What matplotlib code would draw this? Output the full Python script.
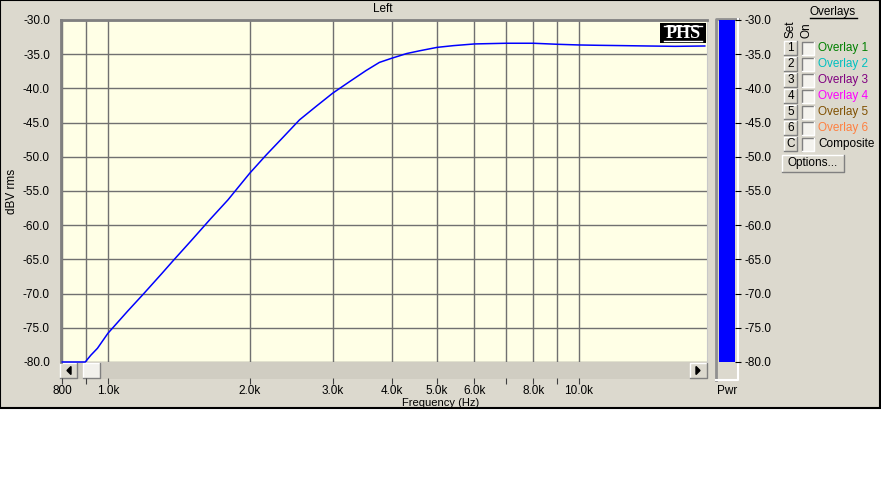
import numpy as np
import matplotlib
matplotlib.use("Agg")
import matplotlib.pyplot as plt
from matplotlib.patches import Rectangle, Polygon
from matplotlib.ticker import FixedLocator, NullLocator

plt.rcParams['font.family'] = ['Liberation Sans', 'DejaVu Sans']
plt.rcParams['axes.unicode_minus'] = False

# --- data ---
freq_hz = [800, 850, 895, 900, 920, 950, 1000, 1100, 1188, 1300, 1375, 1505,
           1650, 1798, 2000, 2170, 2350, 2551, 2770, 3000, 3260, 3530, 3770,
           4000, 4310, 4590, 5000, 5410, 6000, 7000, 8000, 9000, 10000,
           11000, 12500, 14000, 16000, 18500]
level_dbv = [-80.0, -80.0, -80.0, -79.8, -79.0, -78.0, -75.8, -72.6, -70.1,
             -67.1, -65.2, -62.2, -59.1, -56.3, -52.4, -49.7, -47.2, -44.6,
             -42.6, -40.7, -39.0, -37.4, -36.2, -35.6, -34.9, -34.5, -34.0,
             -33.75, -33.5, -33.4, -33.4, -33.55, -33.65, -33.7, -33.75,
             -33.8, -33.85, -33.8]
pwr_level = -30.0

x_ticks = [800, 900, 1000, 2000, 3000, 4000, 5000, 6000, 7000, 8000, 9000, 10000]
x_tick_labels = ["800", "", "1.0k", "2.0k", "3.0k", "4.0k", "5.0k", "6.0k",
                 "", "8.0k", "", "10.0k"]
y_ticks = [-30, -35, -40, -45, -50, -55, -60, -65, -70, -75, -80]

overlay_names = ["Overlay 1", "Overlay 2", "Overlay 3", "Overlay 4",
                 "Overlay 5", "Overlay 6", "Composite"]
overlay_keys = ["1", "2", "3", "4", "5", "6", "C"]
overlay_colors = ["#008000", "#00c0c0", "#800080", "#ff00ff",
                  "#805000", "#ff8040", "#000000"]

W, H = 881, 480
PANEL = "#dcd9ce"
PLOT_BG = "#ffffe6"
GRID = "#707070"
FS = 8.5

fig = plt.figure(figsize=(W / 100, H / 100), dpi=100, facecolor="white")


def frac(x0, y0, x1, y1):
    # pixel box (top-left origin) -> figure fraction [l, b, w, h]
    return [x0 / W, 1 - y1 / H, (x1 - x0) / W, (y1 - y0) / H]


def pixel_axes(z):
    a = fig.add_axes([0, 0, 1, 1], zorder=z)
    a.set_xlim(0, W)
    a.set_ylim(H, 0)
    a.axis("off")
    a.patch.set_alpha(0)
    return a


def bevel(a, x0, y0, x1, y1, face=PANEL, raised=True):
    a.add_patch(Rectangle((x0, y0), x1 - x0, y1 - y0, facecolor=face, edgecolor="none"))
    hi, lo = ("white", "#808080") if raised else ("#808080", "white")
    a.plot([x0, x0, x1], [y1, y0, y0], color=hi, lw=1)
    a.plot([x0, x1, x1], [y1, y1, y0], color=lo, lw=1)


bg = pixel_axes(0)
bg.add_patch(Rectangle((0, 0), 880, 408, facecolor=PANEL, edgecolor="black", lw=1.5))

# scrollbar under the plot
bg.add_patch(Rectangle((60, 362), 647, 17, facecolor="#d0cdc2", edgecolor="none"))
bevel(bg, 60, 363, 77, 378)
bevel(bg, 83, 363, 100, 378, face="#f2f1ec")
bevel(bg, 690, 363, 707, 378)
bg.add_patch(Polygon([[67, 370.5], [71, 366.5], [71, 374.5]], color="black"))
bg.add_patch(Polygon([[700, 370.5], [696, 366.5], [696, 374.5]], color="black"))

# Pwr meter frame
bg.add_patch(Rectangle((715, 18), 23, 362, facecolor=PANEL, edgecolor="none"))
bg.plot([716, 716, 738], [380, 18.5, 18.5], color="#909090", lw=2)
bg.plot([716, 737.5, 737.5], [379.5, 379.5, 18.5], color="white", lw=1.5)

# texts around the plot
bg.text(383, 9, "Left", ha="center", va="center", fontsize=FS)
bg.text(12, 191, "dBV rms", ha="center", va="center", rotation=90, fontsize=FS)
bg.text(441, 403.5, "Frequency (Hz)", ha="center", va="center", fontsize=8)
bg.text(727, 391, "Pwr", ha="center", va="center", fontsize=FS)

# overlays panel
bg.text(833, 12, "Overlays", ha="center", va="center", fontsize=FS)
bg.plot([810, 857], [18, 18], color="black", lw=1)
bg.text(791, 29, "Set", ha="center", va="center", rotation=90, fontsize=FS)
bg.text(807, 30, "On", ha="center", va="center", rotation=90, fontsize=FS)
for i, (key, name, col) in enumerate(zip(overlay_keys, overlay_names, overlay_colors)):
    yc = 48.3 + 16 * i
    bevel(bg, 784, yc - 7, 797, yc + 7)
    bg.text(790.5, yc, key, ha="center", va="center", fontsize=FS)
    bevel(bg, 802, yc - 6, 814, yc + 7, face="#f4f3ee", raised=False)
    bg.text(818, yc, name, ha="left", va="center", fontsize=FS, color=col)
bevel(bg, 782, 155, 844, 172)
bg.text(813, 163, "Options...", ha="center", va="center", fontsize=FS)

# main plot
ax = fig.add_axes(frac(61, 20, 707, 362), zorder=2)
ax.set_facecolor(PLOT_BG)
ax.plot(freq_hz, level_dbv, color="#0000ff", lw=1.1, zorder=3, clip_on=False)
ax.set_xscale("log")
ax.set_xlim(795, 18700)
ax.set_ylim(-80, -30)
ax.xaxis.set_major_locator(FixedLocator(x_ticks))
ax.xaxis.set_minor_locator(NullLocator())
ax.set_xticklabels([])
ax.set_yticks(y_ticks)
ax.set_yticklabels([f"{v:.1f}" for v in y_ticks], fontsize=FS)
ax.tick_params(axis="x", length=0)
ax.tick_params(axis="y", length=0, pad=8)
ax.grid(True, color=GRID, lw=1)
for s in ["left", "top"]:
    ax.spines[s].set_color("#808080")
    ax.spines[s].set_linewidth(2)
ax.spines["right"].set_color("#c8c8c8")
ax.spines["bottom"].set_visible(False)

# frequency ticks below the scrollbar
tx = fig.add_axes(frac(61, 362, 707, 378), zorder=1)
tx.patch.set_alpha(0)
tx.set_xscale("log")
tx.set_xlim(ax.get_xlim())
tx.xaxis.set_major_locator(FixedLocator(x_ticks))
tx.xaxis.set_minor_locator(NullLocator())
tx.set_xticklabels(x_tick_labels, fontsize=FS)
tx.tick_params(axis="x", length=4, pad=1, color="#404040")
tx.set_yticks([])
for s in tx.spines.values():
    s.set_visible(False)

# Pwr bar
pw = fig.add_axes(frac(719, 20, 735, 362), zorder=2)
pw.set_facecolor(PANEL)
pw.bar([0], [pwr_level - (-80)], bottom=-80, width=1.0, color="#0000ff")
pw.set_xlim(-0.5, 0.5)
pw.set_ylim(-80, -30)
pw.set_xticks([])
pw.yaxis.tick_right()
pw.set_yticks(y_ticks)
pw.set_yticklabels([f"{v:.1f}" for v in y_ticks], fontsize=FS)
pw.tick_params(axis="y", length=4, pad=3)
for s in pw.spines.values():
    s.set_visible(False)

# PHS logo on top
fg = pixel_axes(5)
fg.add_patch(Rectangle((660, 23), 46, 20, facecolor="black", edgecolor="none"))
fg.plot([664, 702], [26, 26], color="white", lw=1)
fg.plot([664, 702], [40.5, 40.5], color="white", lw=1)
fg.text(683, 33.8, "PHS", ha="center", va="center", color="white",
        fontsize=13, fontweight="bold", family="Liberation Serif")

fig.savefig("out.png", dpi=100, facecolor="white")
